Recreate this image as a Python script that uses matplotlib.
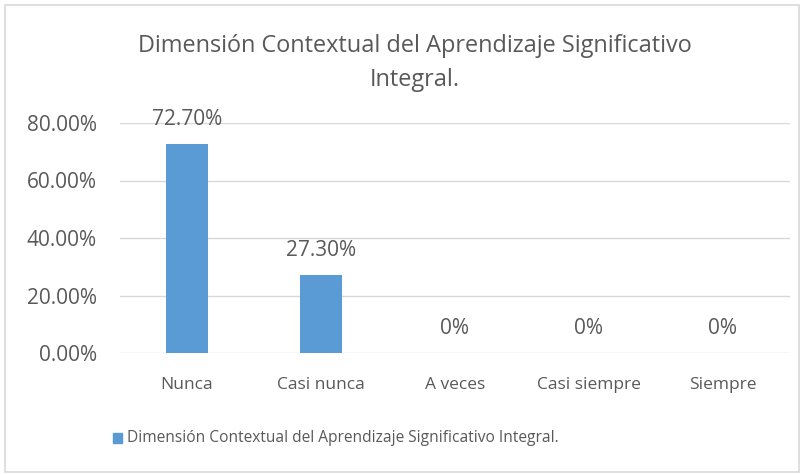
import numpy as np
import matplotlib
matplotlib.use("Agg")
import matplotlib.pyplot as plt
from matplotlib.patches import Rectangle

# data
categorias = ["Nunca", "Casi nunca", "A veces", "Casi siempre", "Siempre"]
valores = [72.7, 27.3, 0.0, 0.0, 0.0]
etiquetas = ["72.70%", "27.30%", "0%", "0%", "0%"]
yticks = [0, 20, 40, 60, 80]
titulo = "Dimensión Contextual del Aprendizaje Significativo\nIntegral."
serie = "Dimensión Contextual del Aprendizaje Significativo Integral."

gris = "#595959"
azul = "#5B9BD5"
plt.rcParams['font.family'] = ['Open Sans', 'DejaVu Sans']

fig = plt.figure(figsize=(8.04, 4.75), dpi=100)
# chart border like excel
fig.patches.append(Rectangle((5/804, 3/475), 1 - 10/804, 1 - 8/475,
                             transform=fig.transFigure, fill=False,
                             edgecolor="#D9D9D9", linewidth=1.2))

ax = fig.add_axes([120/804, 1 - 353/475, 670/804, 230/475])
x = np.arange(len(categorias))
bars = ax.bar(x, valores, width=0.32, color=azul, zorder=3)

ax.set_xlim(-0.5, len(categorias) - 0.5)
ax.set_ylim(0, 80)
ax.set_yticks(yticks)
ax.set_yticklabels(["%.2f%%" % v for v in yticks], color=gris, fontsize=15)
ax.set_xticks(x)
ax.set_xticklabels(categorias, color=gris, fontsize=12.5)
ax.tick_params(length=0)
ax.tick_params(axis='y', pad=16.5)
ax.tick_params(axis='x', pad=17)
ax.grid(axis='y', color="#D9D9D9", linewidth=1.0, zorder=0)
for s in ax.spines.values():
    s.set_visible(False)

for b, lab in zip(bars, etiquetas):
    ax.annotate(lab, (b.get_x() + b.get_width() / 2, b.get_height()),
                xytext=(0, 10), textcoords="offset points",
                ha="center", va="bottom", color=gris, fontsize=15)

fig.text(415/804, 1 - 63/475, titulo, ha="center", va="center",
         color=gris, fontsize=16.9, linespacing=1.5)

# legend
fig.patches.append(Rectangle((113/804, 1 - 443/475), 9/804, 10/475,
                             transform=fig.transFigure, color=azul))
fig.text(127/804, 1 - 438/475, serie, ha="left", va="center",
         color=gris, fontsize=11.2)

fig.savefig("out.png", dpi=100)
